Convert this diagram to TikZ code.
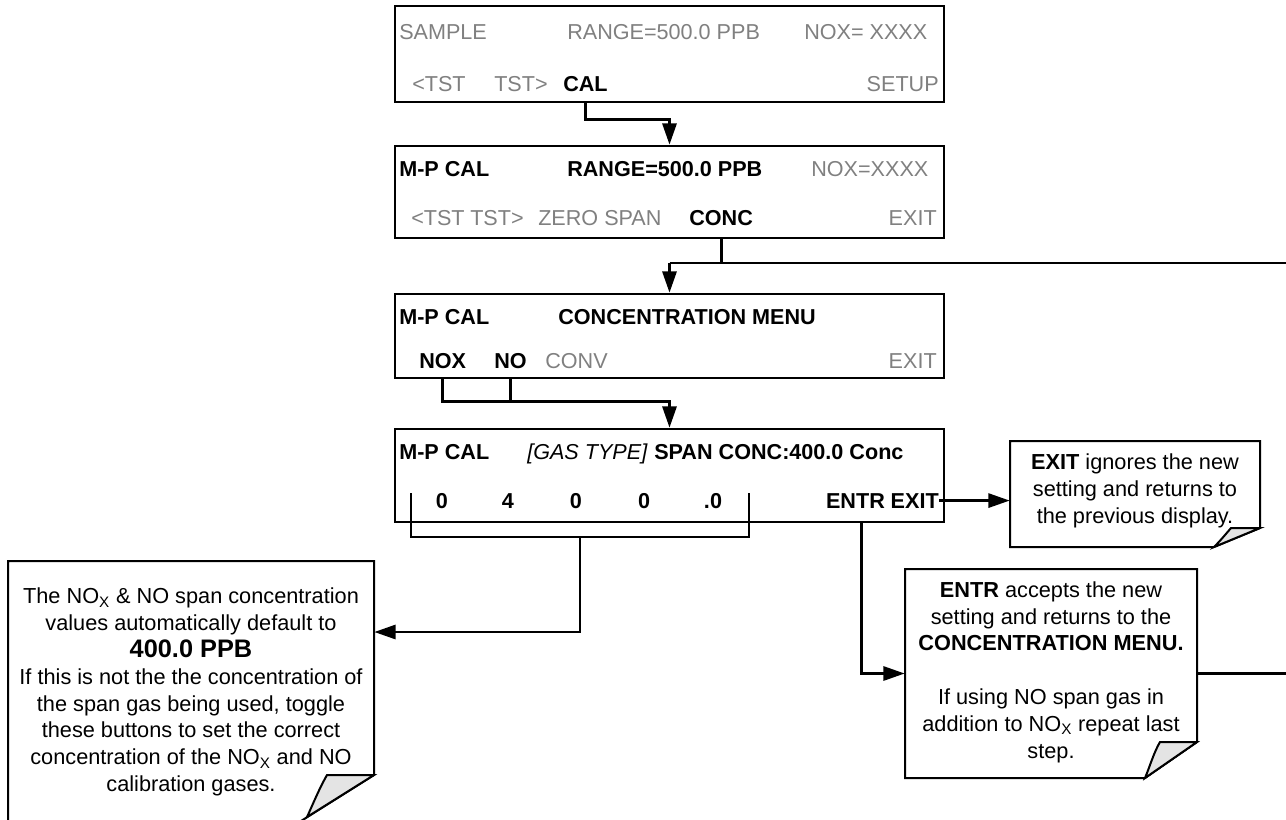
\documentclass[tikz,border=0pt]{standalone}
\usepackage{fontspec}
\setmainfont{Liberation Sans}
\usetikzlibrary{arrows.meta,fit,calc}
\definecolor{mgray}{RGB}{128,128,128}
\definecolor{curlgray}{RGB}{228,228,228}
\begin{document}
\begin{tikzpicture}[x=0.75pt,y=-0.75pt,
  every node/.style={font=\fontsize{16.2}{20}\selectfont},
  screen/.style={draw, line width=1.9pt, inner sep=0pt},
  gt/.style={text=mgray, anchor=base west, inner sep=0pt},
  bt/.style={text=black, anchor=base west, inner sep=0pt, font=\fontsize{16.2}{20}\selectfont\bfseries},
  itx/.style={text=black, anchor=base west, inner sep=0pt, font=\fontsize{16.2}{20}\selectfont\itshape},
  conn/.style={line width=2.2pt},
  arr/.style={line width=2.2pt, -{Triangle[length=16pt,width=10.5pt]}},
  note/.style={draw, line width=1.5pt, line join=miter},
  notetext/.style={align=center, inner sep=0pt, font=\fontsize{16.3}{20.1}\selectfont},
  notebody/.style={inner sep=0pt, draw=none}
]
\useasboundingbox (0,0) rectangle (1286,819);

% ---------- screens ----------
\node[screen, fit={(395,6) (944,102)}] (s1) {};
\node[screen, fit={(395,146) (944,238)}] (s2) {};
\node[screen, fit={(395,294) (944,378)}] (s3) {};
\node[screen, fit={(395,429) (944,522)}] (s4) {};

% screen 1
\node[gt] (t1a) at (399,39) {SAMPLE};
\node[gt] (t1b) at (567,39) {RANGE=500.0 PPB};
\node[gt] (t1c) at (804,39) {NOX= XXXX};
\node[gt] (t1d) at (412,91) {<TST};
\node[gt] (t1e) at (494,91) {TST>};
\node[bt] (cal) at (563,91) {CAL};
\node[gt, anchor=base east] (t1f) at (939,91) {SETUP};

% screen 2
\node[bt] (t2a) at (399,176) {M-P CAL};
\node[bt] (t2b) at (567,176) {RANGE=500.0 PPB};
\node[gt] (t2c) at (811,176) {NOX=XXXX};
\node[gt] (t2d) at (411,225) {<TST};
\node[gt] (t2e) at (470,225) {TST>};
\node[gt] (t2f) at (538,225) {ZERO SPAN};
\node[bt] (conc) at (689,225) {CONC};
\node[gt, anchor=base east] (t2g) at (937,225) {EXIT};

% screen 3
\node[bt] (t3a) at (399,324) {M-P CAL};
\node[bt] (t3b) at (558,324) {CONCENTRATION MENU};
\node[bt] (nox) at (419,368) {NOX};
\node[bt] (no) at (494,368) {NO};
\node[gt] (t3c) at (545,368) {CONV};
\node[gt, anchor=base east] (t3d) at (937,368) {EXIT};

% screen 4
\node[bt] (t4a) at (399,459) {M-P CAL};
\node[itx] (t4b) at (527,459) {[GAS TYPE]};
\node[bt] (t4c) at (654,459) {SPAN CONC:400.0 Conc};
\node[bt, anchor=base] (d1) at (442,508) {0};
\node[bt, anchor=base] (d2) at (508,508) {4};
\node[bt, anchor=base] (d3) at (576,508) {0};
\node[bt, anchor=base] (d4) at (644,508) {0};
\node[bt, anchor=base] (d5) at (713,508) {.0};
\node[bt, anchor=base east] (exitb) at (939,508) {EXIT};
\node[bt, anchor=base east] (entr) at ([xshift=-4pt]exitb.base west) {ENTR};

% ---------- callouts ----------
\node[notebody, fit={(8,561) (374,821)}] (lnote) {};
\draw[note, fill=white] (8,561) -- (374,561) -- (374,775) -- (301,821) -- (8,821) -- cycle;
\filldraw[note, fill=curlgray] (374,775) -- (327,775) .. controls (319,789) and (313,804) .. (307,817) -- cycle;
\node[notetext] (ltext) at (191,692) {The NO\textsubscript{X} \& NO span concentration\\
values automatically default to\\
{\fontsize{19}{22}\selectfont\bfseries 400.0 PPB}\\
If this is not the the concentration of\\
the span gas being used, toggle\\
these buttons to set the correct\\
concentration of the NO\textsubscript{X} and NO\\
calibration gases.};

\node[notebody, fit={(905,569) (1197,778)}] (enote) {};
\draw[note, fill=white] (905,569) -- (1197,569) -- (1197,742) -- (1145,778) -- (905,778) -- cycle;
\filldraw[note, fill=curlgray] (1197,742) -- (1160,742) .. controls (1154,752) and (1150,766) .. (1145,778) -- cycle;
\node[notetext] (etext) at (1051,672) {\textbf{ENTR} accepts the new\\
setting and returns to the\\
\textbf{CONCENTRATION MENU.}\\[20.1pt]
If using NO span gas in\\
addition to NO\textsubscript{X} repeat last\\
step.};

\node[notebody, fit={(1010,441) (1260,547)}] (xnote) {};
\draw[note, fill=white] (1010,441) -- (1260,441) -- (1260,528) -- (1214,547) -- (1010,547) -- cycle;
\filldraw[note, fill=curlgray] (1260,528) -- (1231,528) .. controls (1225,535) and (1220,541) .. (1214,547) -- cycle;
\node[notetext] (xtext) at (1135,491) {\textbf{EXIT} ignores the new\\
setting and returns to\\
the previous display.};

% ---------- connectors ----------
\coordinate (loopA) at (1290,263);
\coordinate (bl) at (411,493);
\coordinate (br) at (749,493);
\coordinate (bm) at (580,537);

\draw[arr] (cal |- s1.south) -- ++(0,16) -| (s2.north);

\draw[conn] (conc |- s2.south) -- (conc |- loopA);
\draw[conn] (s3.north |- loopA) -- (loopA);
\draw[arr] (s3.north |- loopA) -- (s3.north);

\draw[conn] (nox |- s3.south) -- ++(0,22) -| (no |- s3.south);
\draw[arr] (nox |- s3.south) ++(0,22) -| (s4.north);

\draw[conn] (bl) -- ++(0,44) -| (br);
\draw[arr] (bm) -- ++(0,95) coordinate (bk) -- (bk -| lnote.east);

\draw[arr] (exitb.east) -- (exitb.east -| xnote.west);
\draw[arr] ($(entr.center |- s4.south)+(6,0)$) |- (enote.west);
\draw[conn] (enote.east) -- (enote.east -| loopA);
\end{tikzpicture}
\end{document}
